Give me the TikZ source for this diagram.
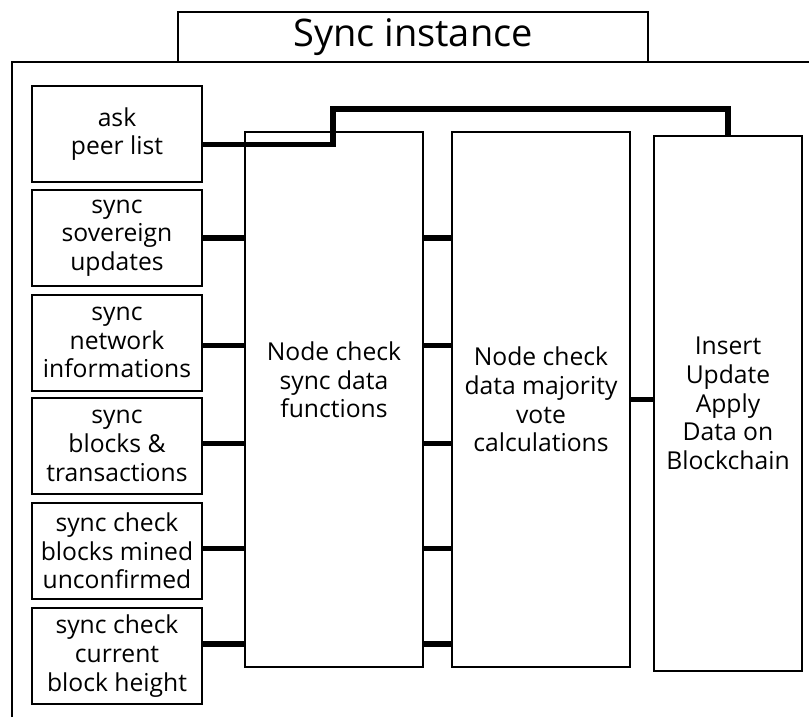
\documentclass[tikz,border=0pt]{standalone}
\usepackage{fontspec}
\setmainfont{Open Sans}
\usepackage{tikz}
\usetikzlibrary{calc}

\tikzset{
  leaf/.style={draw, line width=1.5pt, align=center, inner sep=1pt,
    minimum width=127.5pt, minimum height=72pt,
    font=\fontsize{18.5}{21.5}\selectfont},
  bigbox/.style={draw, line width=1.5pt, align=center, inner sep=1pt,
    minimum width=133.5pt, minimum height=401pt,
    font=\fontsize{18.5}{21.5}\selectfont},
  wire/.style={line width=3.8pt},
}

\begin{document}
\begin{tikzpicture}[x=0.75pt,y=0.75pt,yscale=-1]
\useasboundingbox (0,0) rectangle (809,717);

% outer frame and title
\draw [line width=1.5pt] (12,717) -- (12,62) -- (809,62);
\node (title) at (413,37) [draw, line width=1.5pt, minimum width=352.5pt, minimum height=37.5pt, font=\fontsize{28.5}{32}\selectfont] {Sync instance};

% sync functions on the left
\node (ask) at (117,134) [leaf] {ask\\peer list};
\node (sov) at (117,238) [leaf] {sync\\sovereign\\updates};
\node (net) at (117,342.5) [leaf] {sync\\network\\informations};
\node (blk) at (117,446) [leaf] {sync\\blocks \&\\transactions};
\node (mined) at (117,551) [leaf] {sync check\\blocks mined\\unconfirmed};
\node (hgt) at (117,656) [leaf] {sync check\\current\\block height};

% check and vote columns
\node (sync) at (334,399.5) [bigbox] {Node check\\sync data\\functions\\[8pt]};
\node (vote) at (541,399.5) [bigbox] {Node check\\data majority\\vote\\calculations};
\node (apply) at (728,403.5) [bigbox, minimum width=111pt] {Insert\\Update\\Apply\\Data on\\Blockchain};

% connectors
\coordinate (bend) at (333,109);
\draw [wire] ([yshift=8pt]ask.east) -| (bend) -| (apply.north);
\foreach \n/\s in {sov/0,net/2,blk/-2,mined/-2,hgt/-9}
{
  \draw [wire] ([yshift=\s pt]\n.east) -- ([yshift=\s pt]\n.east -| sync.west);
  \draw [wire] ([yshift=\s pt]\n.east -| sync.east) -- ([yshift=\s pt]\n.east -| vote.west);
}
\draw [wire] (vote.east) -- (vote.east -| apply.west);

\end{tikzpicture}
\end{document}
